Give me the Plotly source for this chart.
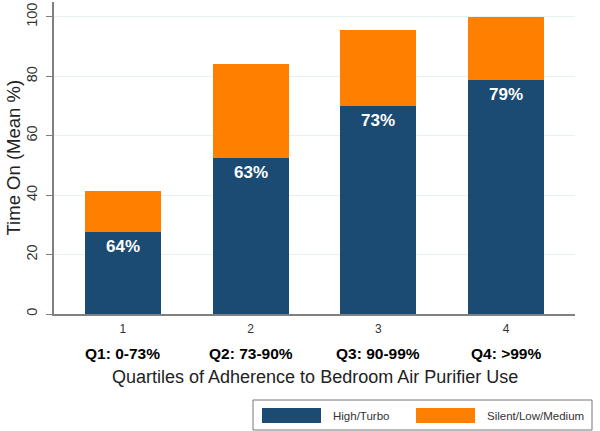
import plotly.graph_objects as go

categories = [1, 2, 3, 4]
tick_labels = ["1", "2", "3", "4"]
quartile_labels = ["Q1: 0-73%", "Q2: 73-90%", "Q3: 90-99%", "Q4: >99%"]
high_turbo = [27.6, 52.5, 69.9, 78.8]
silent_low_medium = [13.9, 31.6, 25.8, 21.1]
pct_labels = ["64%", "63%", "73%", "79%"]
y_ticks = [0, 20, 40, 60, 80, 100]

BLUE = "#1b4a72"
ORANGE = "#ff8000"
FONT = "Liberation Sans, Arial, sans-serif"

W, H = 600, 431
ML, MR, MT, MB = 54, 25, 2, 117
PW, PH = W - ML - MR, H - MT - MB

def px_x(px):
    return (px - ML) / PW

def px_y(py):
    return (H - MB - py) / PH

fig = go.Figure()
fig.add_trace(go.Bar(x=categories, y=high_turbo, name="High/Turbo",
                     marker=dict(color=BLUE, line=dict(width=0)), width=0.595,
                     showlegend=False, hoverinfo="skip"))
fig.add_trace(go.Bar(x=categories, y=silent_low_medium, name="Silent/Low/Medium",
                     marker=dict(color=ORANGE, line=dict(width=0)), width=0.595,
                     showlegend=False, hoverinfo="skip"))

annotations = []
for c, v, t in zip(categories, high_turbo, pct_labels):
    annotations.append(dict(x=c, y=v, xref="x", yref="y", text="<b>%s</b>" % t,
                            showarrow=False, yanchor="top", yshift=-3,
                            font=dict(family=FONT, size=17, color="white")))
for c, q in zip(categories, quartile_labels):
    annotations.append(dict(x=c, y=px_y(353), xref="x", yref="paper", text="<b>%s</b>" % q,
                            showarrow=False, yanchor="middle",
                            font=dict(family=FONT, size=15.5, color="black")))
annotations.append(dict(x=0.5, y=px_y(377), xref="paper", yref="paper",
                        text="Quartiles of Adherence to Bedroom Air Purifier Use",
                        showarrow=False, yanchor="middle",
                        font=dict(family=FONT, size=18, color="#222")))
annotations.append(dict(x=px_x(12.5), y=px_y(158), xref="paper", yref="paper",
                        text="Time On (Mean %)", textangle=-90,
                        showarrow=False, xanchor="center", yanchor="middle",
                        font=dict(family=FONT, size=18.5, color="#222")))

# legend drawn as box with swatches
shapes = [
    dict(type="rect", xref="paper", yref="paper", x0=px_x(253), x1=px_x(592),
         y0=px_y(430), y1=px_y(400), line=dict(color="#777", width=1), fillcolor="white"),
    dict(type="rect", xref="paper", yref="paper", x0=px_x(262), x1=px_x(321),
         y0=px_y(423), y1=px_y(408), line=dict(color=BLUE, width=0), fillcolor=BLUE),
    dict(type="rect", xref="paper", yref="paper", x0=px_x(416), x1=px_x(475),
         y0=px_y(423), y1=px_y(408), line=dict(color=ORANGE, width=0), fillcolor=ORANGE),
]
for xpx, name in [(331, "High/Turbo"), (485, "Silent/Low/Medium")]:
    annotations.append(dict(x=px_x(xpx), y=px_y(415.5), xref="paper", yref="paper",
                            text=name, showarrow=False, xanchor="left", yanchor="middle",
                            font=dict(family=FONT, size=11.5, color="#333")))

fig.update_layout(
    barmode="stack",
    width=W, height=H,
    margin=dict(l=ML, r=MR, t=MT, b=MB, autoexpand=False),
    paper_bgcolor="white", plot_bgcolor="white",
    font=dict(family=FONT),
    annotations=annotations,
    shapes=shapes,
    hovermode=False,
    xaxis=dict(range=[0.46, 4.54], tickvals=categories, ticktext=tick_labels,
               showgrid=False, showline=True, linecolor="#808080", linewidth=1.5,
               ticks="", tickfont=dict(size=12, color="#333"), zeroline=False,
               automargin=False, ticklabelstandoff=3, fixedrange=True),
    yaxis=dict(range=[0, 105], tickvals=y_ticks, showgrid=True, gridcolor="#e8f1f3",
               showline=True, linecolor="#808080", linewidth=1.5, ticks="outside",
               ticklen=6, tickcolor="#808080", tickangle=-90,
               tickfont=dict(size=14.5, color="#333"), zeroline=False,
               automargin=False, ticklabelstandoff=3, fixedrange=True),
)

fig.write_html("out.html", config={"displayModeBar": False},
               post_script="document.body.style.margin='0';document.body.style.overflow='hidden';")
